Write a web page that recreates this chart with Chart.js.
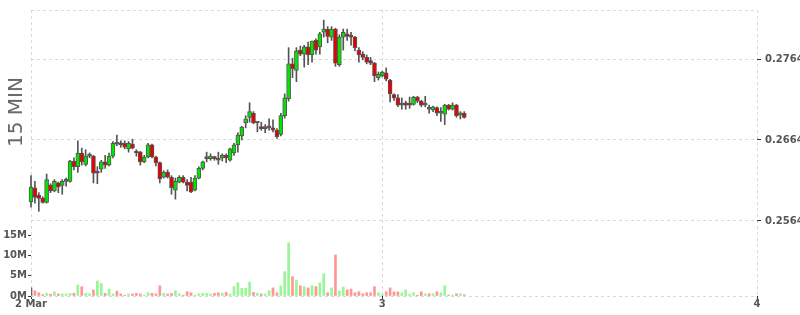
<!DOCTYPE html>
<html lang="en">
<head>
<meta charset="UTF-8" />
<title>15 MIN</title>
<script src="https://cdn.jsdelivr.net/npm/chart.js"></script>
<style>
  body { margin: 0; background: #fff; }
  .wrap { position: relative; width: 800px; height: 315px; }
  .side-title {
    position: absolute;
    left: 15px;
    top: 112px;
    transform: translate(-50%, -50%) rotate(-90deg);
    font: 20px "DejaVu Sans", sans-serif;
    color: #666;
    white-space: nowrap;
  }
</style>
</head>
<body>
<div class="wrap">
  <canvas id="chart" width="800" height="315"></canvas>
  <div class="side-title">15 MIN</div>
</div>

<script>
  // time axis in hours from 2 Mar 00:00, one candle every 15 min
  const startHour = 1.5;
  const stepHours = 0.25;
  const xTicks = [1.5, 24, 48];
  const xTickLabels = ['2 Mar', '3', '4'];
  const priceTicks = [0.2564, 0.2664, 0.2764];
  const volumeTicks = [0, 5, 10, 15];

  const openP = [
    0.2588,0.2605,0.2596,0.2592,0.2587,0.2608,0.2601,0.2611,0.2608,0.2613,
    0.2613,0.2638,0.2631,0.2648,0.2634,0.2644,0.2644,0.2624,0.2628,0.2637,
    0.2633,0.2644,0.2659,0.2660,0.2660,0.2653,0.2659,0.2650,0.2649,0.2637,
    0.2643,0.2658,0.2643,0.2636,0.2618,0.2624,0.2618,0.2602,0.2612,0.2618,
    0.2612,0.2612,0.2602,0.2617,0.2629,0.2641,0.2641,0.2643,0.2639,0.2642,
    0.2645,0.2639,0.2648,0.2658,0.2669,0.2685,0.2692,0.2697,0.2685,0.2680,
    0.2678,0.2679,0.2679,0.2676,0.2671,0.2694,0.2715,0.2758,0.2750,0.2775,
    0.2770,0.2779,0.2769,0.2787,0.2779,0.2797,0.2801,0.2791,0.2801,0.2757,
    0.2791,0.2795,0.2792,0.2791,0.2775,0.2770,0.2766,0.2762,0.2759,0.2741,
    0.2743,0.2747,0.2738,0.2720,0.2716,0.2707,0.2710,0.2708,0.2708,0.2717,
    0.2712,0.2707,0.2702,0.2701,0.2704,0.2697,0.2696,0.2707,0.2702,0.2707,0.2695,0.2697
  ];
  const highP = [
    0.2620,0.2613,0.2599,0.2594,0.2622,0.2610,0.2615,0.2612,0.2615,0.2617,
    0.2639,0.2642,0.2663,0.2654,0.2652,0.2648,0.2645,0.2631,0.2639,0.2645,
    0.2648,0.2662,0.2670,0.2663,0.2663,0.2662,0.2665,0.2652,0.2650,0.2645,
    0.2660,0.2659,0.2644,0.2637,0.2626,0.2627,0.2620,0.2617,0.2620,0.2620,
    0.2615,0.2618,0.2620,0.2631,0.2638,0.2649,0.2647,0.2644,0.2649,0.2647,
    0.2647,0.2654,0.2660,0.2673,0.2681,0.2694,0.2710,0.2699,0.2686,0.2686,
    0.2683,0.2690,0.2689,0.2678,0.2697,0.2721,0.2778,0.2765,0.2778,0.2780,
    0.2781,0.2785,0.2786,0.2789,0.2797,0.2812,0.2804,0.2804,0.2802,0.2794,
    0.2801,0.2801,0.2797,0.2792,0.2778,0.2773,0.2769,0.2766,0.2760,0.2748,
    0.2749,0.2753,0.2739,0.2721,0.2720,0.2716,0.2712,0.2717,0.2718,0.2718,
    0.2713,0.2718,0.2707,0.2706,0.2705,0.2704,0.2708,0.2708,0.2710,0.2708,0.2699,0.2699
  ];
  const lowP = [
    0.2581,0.2586,0.2576,0.2586,0.2586,0.2599,0.2600,0.2599,0.2597,0.2607,
    0.2612,0.2627,0.2624,0.2633,0.2632,0.2642,0.2611,0.2610,0.2624,0.2629,
    0.2632,0.2642,0.2657,0.2655,0.2653,0.2649,0.2653,0.2644,0.2633,0.2636,
    0.2642,0.2642,0.2632,0.2611,0.2617,0.2617,0.2597,0.2591,0.2611,0.2611,
    0.2601,0.2599,0.2601,0.2616,0.2627,0.2637,0.2639,0.2639,0.2634,0.2638,
    0.2636,0.2638,0.2645,0.2649,0.2664,0.2679,0.2686,0.2684,0.2674,0.2676,
    0.2673,0.2676,0.2674,0.2666,0.2669,0.2691,0.2712,0.2741,0.2736,0.2768,
    0.2754,0.2757,0.2760,0.2770,0.2770,0.2791,0.2784,0.2787,0.2755,0.2755,
    0.2775,0.2787,0.2781,0.2774,0.2760,0.2763,0.2758,0.2757,0.2736,0.2738,
    0.2742,0.2737,0.2711,0.2713,0.2705,0.2702,0.2702,0.2703,0.2707,0.2710,
    0.2705,0.2705,0.2697,0.2699,0.2694,0.2687,0.2683,0.2701,0.2701,0.2692,0.2690,0.2691
  ];
  const closeP = [
    0.2606,0.2593,0.2592,0.2587,0.2615,0.2601,0.2613,0.2606,0.2613,0.2613,
    0.2638,0.2631,0.2648,0.2637,0.2644,0.2644,0.2623,0.2623,0.2637,0.2633,
    0.2644,0.2660,0.2659,0.2658,0.2655,0.2660,0.2654,0.2648,0.2637,0.2643,
    0.2658,0.2643,0.2636,0.2616,0.2624,0.2618,0.2605,0.2613,0.2618,0.2612,
    0.2608,0.2600,0.2617,0.2629,0.2637,0.2641,0.2644,0.2641,0.2639,0.2645,
    0.2642,0.2653,0.2658,0.2670,0.2680,0.2690,0.2699,0.2685,0.2685,0.2678,
    0.2678,0.2679,0.2676,0.2668,0.2694,0.2716,0.2758,0.2752,0.2774,0.2770,
    0.2779,0.2769,0.2786,0.2775,0.2795,0.2801,0.2792,0.2801,0.2759,0.2791,
    0.2797,0.2792,0.2791,0.2778,0.2769,0.2766,0.2760,0.2759,0.2743,0.2745,
    0.2748,0.2739,0.2721,0.2716,0.2707,0.2707,0.2707,0.2707,0.2717,0.2712,
    0.2707,0.2707,0.2702,0.2705,0.2697,0.2697,0.2707,0.2702,0.2707,0.2694,0.2697,0.2692
  ];
  // volume in millions
  const volumeM = [
    2.0,1.3,0.8,0.35,0.65,0.45,1.0,0.5,0.5,0.5,
    0.65,0.65,2.7,2.3,0.65,0.5,1.5,3.7,3.1,0.65,
    1.7,0.5,1.2,0.5,0.2,0.5,0.5,0.65,0.5,0.2,
    0.8,0.65,0.5,2.5,0.65,0.5,0.65,1.3,0.5,0.2,
    1.05,0.8,0.25,0.5,0.65,0.65,0.5,0.65,0.8,0.65,
    0.9,0.5,2.3,3.3,1.9,1.9,3.4,0.9,0.65,0.5,
    0.5,1.3,2.0,0.8,2.5,6.0,13.1,4.75,3.9,2.5,
    2.3,2.0,2.5,2.3,3.2,5.5,0.8,2.0,10.1,1.2,
    2.2,1.5,1.7,0.8,1.05,0.55,0.8,0.8,2.3,0.8,
    0.4,1.05,2.0,1.0,1.0,0.8,1.5,0.4,0.8,0.2,
    1.05,0.55,0.55,0.55,1.05,0.8,2.5,0.25,0.25,0.55,0.55,0.3
  ];

  const hours = openP.map((_, i) => startHour + i * stepHours);

  const UP = '#00e600', DOWN = '#e60000', FLAT = '#666';
  const UP_VOL = '#98f598', DOWN_VOL = '#ff9696', FLAT_VOL = '#666';
  const GRID = '#d9d9d9';
  const tickFont = { family: 'DejaVu Sans', size: 10, weight: 'bold' };

  function bodyColor(i) {
    if (closeP[i] > openP[i]) return UP;
    if (closeP[i] < openP[i]) return DOWN;
    return FLAT;
  }
  function volColor(i) {
    if (i === 0) return FLAT_VOL;
    return closeP[i] >= closeP[i - 1] ? UP_VOL : DOWN_VOL;
  }

  // dashed top / bottom edge of the plot
  const frame = {
    id: 'frame',
    beforeDatasetsDraw(chart) {
      const { ctx, chartArea: a } = chart;
      ctx.save();
      ctx.strokeStyle = GRID;
      ctx.lineWidth = 1;
      ctx.setLineDash([3, 3]);
      ctx.beginPath();
      ctx.moveTo(a.left, a.top + 0.5);
      ctx.lineTo(a.right, a.top + 0.5);
      ctx.moveTo(a.left, a.bottom + 0.5);
      ctx.lineTo(a.right, a.bottom + 0.5);
      ctx.stroke();
      ctx.restore();
    }
  };

  new Chart(document.getElementById('chart'), {
    type: 'bar',
    data: {
      datasets: [
        {
          label: 'body',
          order: 0,
          data: hours.map((h, i) => ({ x: h, y: [openP[i], closeP[i]] })),
          backgroundColor: ctx => bodyColor(ctx.dataIndex),
          borderColor: '#555',
          borderWidth: 1,
          borderSkipped: false,
          barThickness: 4,
          minBarLength: 2,
          grouped: false,
          clip: false,
          yAxisID: 'y'
        },
        {
          label: 'wick',
          order: 1,
          data: hours.map((h, i) => ({ x: h, y: [lowP[i], highP[i]] })),
          backgroundColor: '#555',
          borderWidth: 0,
          barThickness: 1,
          grouped: false,
          clip: false,
          yAxisID: 'y'
        },
        {
          label: 'volume',
          order: 2,
          data: hours.map((h, i) => ({ x: h, y: volumeM[i] })),
          backgroundColor: ctx => volColor(ctx.dataIndex),
          borderWidth: 0,
          barThickness: 2,
          grouped: false,
          yAxisID: 'v'
        }
      ]
    },
    options: {
      responsive: false,
      animation: false,
      devicePixelRatio: 1,
      layout: { padding: { top: 10 } },
      plugins: { legend: { display: false }, tooltip: { enabled: false } },
      scales: {
        x: {
          type: 'linear',
          min: xTicks[0],
          max: xTicks[xTicks.length - 1],
          offset: false,
          grid: { offset: false, color: GRID, tickColor: '#333', tickLength: 3 },
          border: { display: false, dash: [3, 3] },
          afterBuildTicks: s => { s.ticks = xTicks.map(v => ({ value: v })); },
          afterFit: s => { s.height = 19; },
          ticks: {
            autoSkip: false, maxRotation: 0, padding: -1,
            color: '#555', font: tickFont,
            callback: (v, i) => xTickLabels[i]
          }
        },
        y: {
          position: 'right',
          min: 0.24714,
          max: 0.28245,
          grid: { color: GRID, tickColor: '#333', tickLength: 4 },
          border: { display: false, dash: [3, 3] },
          afterBuildTicks: s => { s.ticks = priceTicks.map(v => ({ value: v })); },
          afterFit: s => { s.width = 43; },
          ticks: { padding: 4, color: '#555', font: tickFont, callback: v => v.toFixed(4) }
        },
        v: {
          position: 'left',
          min: 0,
          max: 70.4,
          grid: { drawOnChartArea: false, tickColor: '#333', tickLength: 3 },
          border: { display: false },
          afterBuildTicks: s => { s.ticks = volumeTicks.map(v => ({ value: v })); },
          afterFit: s => { s.width = 31; },
          ticks: { padding: 1, color: '#555', font: tickFont, callback: v => v + 'M' }
        }
      }
    },
    plugins: [frame]
  });
</script>
</body>
</html>
